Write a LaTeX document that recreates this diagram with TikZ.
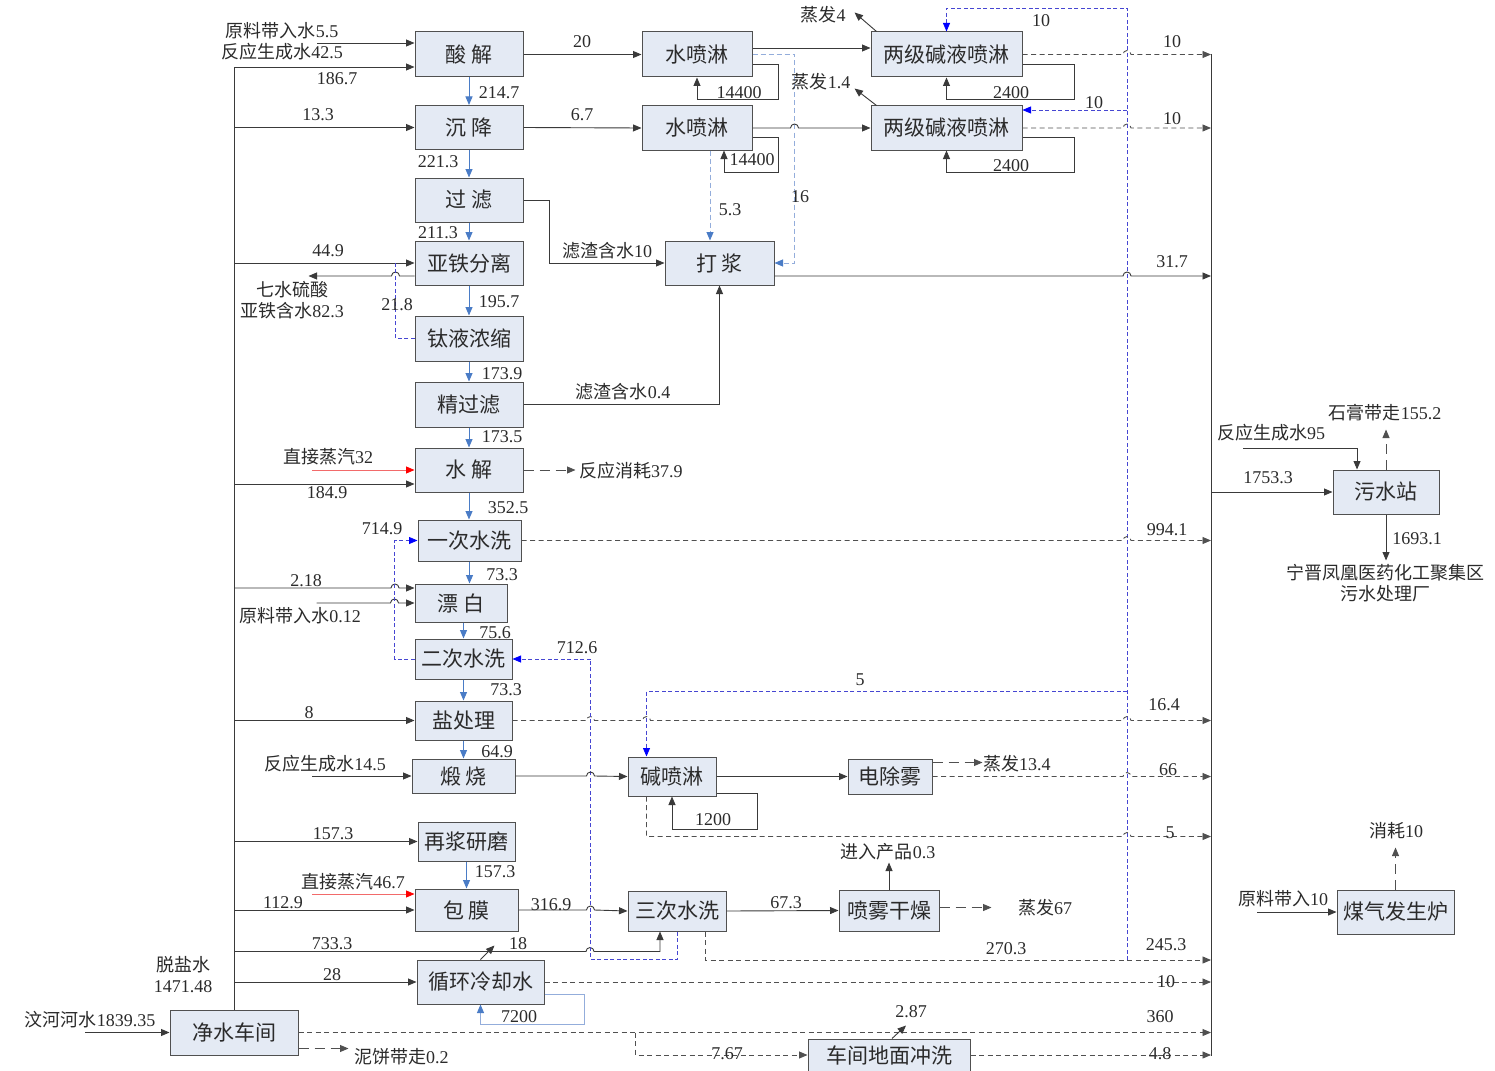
\documentclass[tikz,border=0pt]{standalone}
\usepackage{fontspec}
\setmainfont{Liberation Serif}
\newfontfamily\cjk{Noto Sans CJK SC}
\usetikzlibrary{arrows.meta,calc}
\definecolor{wsInk}{HTML}{3A3A3A}
\definecolor{wsLine}{HTML}{505050}
\definecolor{wsFill}{HTML}{E4EAF4}
\definecolor{wsBlue}{HTML}{4A7CC6}
\definecolor{wsRcy}{HTML}{4646D2}
\definecolor{wsLight}{HTML}{93ADDB}
\definecolor{wsRed}{HTML}{F26A6A}
\definecolor{wsText}{HTML}{2B2B2B}
\newcommand{\zh}[1]{{\cjk #1}}

\begin{document}
\begin{tikzpicture}[x=1pt,y=-1pt,>={Triangle[length=8.5pt,width=7pt]}]
\useasboundingbox[fill=white] (0,0) rectangle (1495,1070);
\tikzset{box/.style={draw=wsLine,fill=wsFill,line width=1pt,inner sep=0pt,text=wsText,font=\cjk\fontsize{21}{23}\selectfont},bx/.style 2 args={box,minimum width=#1pt,minimum height=#2pt},wire/.style={draw=wsInk,line width=0.9pt},flow/.style={wire,->},down/.style={draw=wsBlue,line width=1pt,->},dsh/.style={draw=wsLine,line width=0.9pt,dash pattern=on 5pt off 3.5pt,->},dshl/.style={draw=wsLine,line width=0.9pt,dash pattern=on 10pt off 6pt,->},rcy/.style={draw=wsRcy,line width=0.8pt,dash pattern=on 4pt off 2.5pt,-{Triangle[length=8.5pt,width=7pt,color=blue]}},rcyl/.style={draw=wsRcy,line width=0.8pt,dash pattern=on 4pt off 2.5pt},ltb/.style={draw=wsLight,line width=1pt,dash pattern=on 5pt off 3pt,-{Triangle[length=8.5pt,width=7pt,color=wsBlue]}},lloop/.style={draw=wsLight,line width=1pt,-{Triangle[length=8.5pt,width=7pt,color=wsBlue]}},stm/.style={draw=wsRed,line width=0.9pt,{Triangle[length=8.5pt,width=7pt,color=red]}-},lbl/.style={inner sep=1pt,text=wsText,font=\fontsize{18}{21}\selectfont}}
\node[bx={108}{45}] (sj) at (469,54.5) {酸 解};
\node[bx={108}{44}] (cj) at (469,127.5) {沉 降};
\node[bx={108}{44}] (gl) at (469,200) {过 滤};
\node[bx={108}{44}] (yt) at (469,263) {亚铁分离};
\node[bx={108}{45}] (ty) at (469,338.5) {钛液浓缩};
\node[bx={108}{45}] (jg) at (469,404.5) {精过滤};
\node[bx={108}{44}] (sh) at (469,470) {水 解};
\node[bx={103}{41}] (yc) at (469.5,540.5) {一次水洗};
\node[bx={92}{38}] (pb) at (461,603) {漂 白};
\node[bx={97}{40}] (ec) at (463.5,659) {二次水洗};
\node[bx={97}{39}] (ycl) at (463.5,720.5) {盐处理};
\node[bx={103}{34}] (ds) at (463.5,776) {煅 烧};
\node[bx={97}{39}] (zj) at (466.5,841.5) {再浆研磨};
\node[bx={103}{42}] (bm) at (466.5,910) {包 膜};
\node[bx={127}{44}] (xh) at (480.5,982) {循环冷却水};
\node[bx={128}{45}] (js) at (234,1032.5) {净水车间};
\node[bx={110}{45}] (spa) at (697,54.5) {水喷淋};
\node[bx={110}{44}] (spb) at (697,128) {水喷淋};
\node[bx={109}{44}] (dj) at (719.5,263) {打 浆};
\node[bx={151}{45}] (lja) at (946.5,54.5) {两级碱液喷淋};
\node[bx={151}{44}] (ljb) at (946.5,128) {两级碱液喷淋};
\node[bx={88}{39}] (jpl) at (672,776.5) {碱喷淋};
\node[bx={84}{35}] (dcw) at (890,776.5) {电除雾};
\node[bx={98}{40}] (sc) at (677,911) {三次水洗};
\node[bx={100}{41}] (pw) at (889,910.5) {喷雾干燥};
\node[bx={162}{32}] (dm) at (889,1055) {车间地面冲洗};
\node[bx={106}{44}] (ws) at (1386,492) {污水站};
\node[bx={117}{44}] (mq) at (1395.5,912) {煤气发生炉};
\coordinate (lb) at (234,67); \coordinate (rb) at (1211,54); \coordinate (rbb) at (1211,1056);
\coordinate (bc) at (1127,8); \coordinate (bcb) at (1127,960); \coordinate (b5) at (1127,691);
\draw[wire] (js.north) -- (lb); \draw[wire] (rb) -- (rbb);
\draw[flow,<-] (js.west) -- ++(-85,0);
\draw[flow,<-] ([yshift=11.5pt]sj.west) -- ++(-98,0);
\draw[flow] ([yshift=-12.5pt]sj.west -| lb) -- ([yshift=-12.5pt]sj.west);
\draw[flow] (cj.west -| lb) -- (cj.west);
\draw[flow] (yt.west -| lb) -- (yt.west);
\draw[flow] ([yshift=-13pt]yt.west) -- ++(-15,0) arc[start angle=0,end angle=-180,radius=4] -- ++(-83,0);
\draw[rcyl] (ty.west) -| ([xshift=-19pt]yt.west);
\draw[flow] ([yshift=-14pt]sh.west -| lb) -- ([yshift=-14pt]sh.west);
\draw[stm] (sh.west) -- ++(-103,0);
\draw[flow] ([yshift=15pt]pb.west -| lb) -- ++(157,0) arc[start angle=180,end angle=360,radius=4] -- ([yshift=15pt]pb.west);
\draw[flow] ($(pb.west)+(-98,0)$) -- ++(74,0) arc[start angle=180,end angle=360,radius=4] -- (pb.west);
\draw[flow] (ycl.west -| lb) -- (ycl.west);
\draw[flow,<-] (ds.west) -- ++(-100,0);
\draw[flow] (zj.west -| lb) -- (zj.west);
\draw[stm] ([yshift=16pt]bm.west) -- ++(-103,0);
\draw[flow] (bm.west -| lb) -- (bm.west);
\draw[flow] ([yshift=-20pt]sc.south -| lb) -- ++(352,0) arc[start angle=180,end angle=360,radius=4] -| ([xshift=-17pt]sc.south);
\draw[flow] (xh.west -| lb) -- (xh.west);
\draw[down] (sj.south) -- (cj.north); \draw[down] (cj.south) -- (gl.north); \draw[down] (gl.south) -- (yt.north);
\draw[down] (yt.south) -- (ty.north); \draw[down] (ty.south) -- (jg.north); \draw[down] (jg.south) -- (sh.north);
\draw[down] (sh.south) -- (sh.south |- yc.north); \draw[down] (yc.south) -- (yc.south |- pb.north);
\draw[down] (pb.south -| ec.north) -- (ec.north); \draw[down] (ec.south) -- (ycl.north); \draw[down] (ycl.south) -- (ds.north);
\draw[down] (zj.south) -- (bm.north);
\draw[flow] (sj.east) -- (spa.west); \draw[flow] (cj.east) -- (spb.west);
\draw[flow] (gl.east) -- ++(26,0) |- (dj.west);
\draw[flow] (jg.east) -| (dj.south);
\draw[dshl] (sh.east) -- ++(52,0);
\draw[flow] ([yshift=6.5pt]spa.east) -- ([yshift=6.5pt]lja.west);
\draw[ltb] (spa.east) -- ++(42,0) |- (dj.east);
\draw[flow] (spb.east) -- ++(38,0) arc[start angle=180,end angle=360,radius=4] -- (ljb.west);
\draw[ltb] ([xshift=13pt]spb.south) -- ([xshift=13pt]spb.south |- dj.north);
\draw[flow] ([yshift=-9.5pt]spa.east) -| ++(26,35) -| (spa.south);
\draw[flow] ([yshift=-9.5pt]spb.east) -| ++(26,35) -| ([xshift=27pt]spb.south);
\draw[flow] ([yshift=-9.5pt]lja.east) -| ++(52,35) -| (lja.south);
\draw[flow] ([yshift=-9.5pt]ljb.east) -| ++(52,35) -| (ljb.south);
\draw[flow] ([xshift=6pt]lja.north west) -- ++(-22,-19);
\draw[flow] ([xshift=6pt]ljb.north west) -- ++(-22,-17);
\draw[rcy] (bcb) -- (bc) -| (lja.north);
\draw[rcy] ([yshift=18pt]ljb.east -| bc) -- ([yshift=18pt]ljb.east);
\draw[rcy] (b5) -| ([xshift=19pt]jpl.north west);
\draw[dsh] (lja.east) -- ($(lja.east -| bc)+(-4,0)$) arc[start angle=180,end angle=360,radius=4] -- (lja.east -| rb);
\draw[dsh] (ljb.east) -- ($(ljb.east -| bc)+(-4,0)$) arc[start angle=180,end angle=360,radius=4] -- (ljb.east -| rb);
\coordinate (dj1) at ([yshift=-13pt]dj.east);
\draw[flow] (dj1) -- ($(dj1 -| bc)+(-4,0)$) arc[start angle=180,end angle=360,radius=4] -- (dj1 -| rb);
\draw[dsh] (yc.east) -- ($(yc.east -| bc)+(-4,0)$) arc[start angle=180,end angle=360,radius=4] -- (yc.east -| rb);
\draw[dsh] (ycl.east) -- ($(ycl.east)+(74,0)$) arc[start angle=180,end angle=360,radius=4] -- ($(ycl.east -| jpl.west)+(15,0)$) arc[start angle=180,end angle=360,radius=4] -- ($(ycl.east -| bc)+(-4,0)$) arc[start angle=180,end angle=360,radius=4] -- (ycl.east -| rb);
\draw[rcyl] (sc.south) -- ++(0,28) -| ($(ec.east)+(78,0)$);
\draw[rcy] ($(ec.east)+(78,0)$) -- (ec.east);
\draw[rcy] (ec.west) -- ++(-20,0) |- (yc.west);
\draw[flow] (ds.east) -- ++(71,0) arc[start angle=180,end angle=360,radius=4] -- (jpl.west);
\draw[flow] (jpl.east) -- (dcw.west);
\draw[dshl] ([yshift=14pt]dcw.east) -- ++(50,0);
\draw[dsh] (dcw.east) -- ($(dcw.east -| bc)+(-4,0)$) arc[start angle=180,end angle=360,radius=4] -- (dcw.east -| rb);
\draw[flow] ([yshift=-16.5pt]jpl.east) -| ++(41,36) -| (jpl.south);
\coordinate (jp5) at ([xshift=19pt]jpl.south west);
\draw[dsh] (jp5) -- ++(0,40) -- ($(jp5 -| bc)+(-4,40)$) arc[start angle=180,end angle=360,radius=4] -- ($(jp5 -| rb)+(0,40)$);
\draw[flow] (bm.east) -- ++(68,0) arc[start angle=180,end angle=360,radius=4] -- (sc.west);
\draw[flow] (sc.east) -- (pw.west);
\draw[flow] (pw.north) -- ++(0,-27);
\draw[dshl] ([yshift=3pt]pw.east) -- ++(52,0);
\draw[dsh] ([xshift=28pt]sc.south) |- (bcb -| rb);
\draw[flow] (xh.north) -- ++(14,-14);
\draw[lloop] ([yshift=-12pt]xh.east) -| ++(40,30) -| (xh.south);
\draw[dsh] (xh.east) -- (xh.east -| rb);
\draw[dsh] (js.east) -- (js.east -| rb);
\draw[dshl] ([yshift=-16pt]js.east) -- ++(50,0);
\draw[dsh] ($(js.east)+(337,0)$) |- (dm.west);
\draw[dsh] (dm.east) -- (dm.east -| rb);
\draw[flow] ([xshift=3pt]dm.north) -- ++(14,-13);
\draw[flow] (ws.west -| rb) -- (ws.west);
\draw[flow,<-] ([xshift=-29pt]ws.north) |- ++(-114,-21);
\draw[dshl] (ws.north) -- ++(0,-40);
\draw[flow] (ws.south) -- ++(0,46);
\draw[flow,<-] (mq.west) -- ++(-80,0);
\draw[dshl] (mq.north) -- ++(0,-42);
\node[lbl] (tA) at (282,31) {\zh{原料带入水}5.5}; \node[lbl] (tB) at (282,52) {\zh{反应生成水}42.5};
\node[lbl] (t1867) at (337,79) {186.7}; \node[lbl] (t133) at (318,115) {13.3};
\node[lbl] (t2147) at (499,93) {214.7}; \node[lbl] (t2213) at (438,162) {221.3}; \node[lbl] (t2113) at (438,233) {211.3};
\node[lbl] (t449) at (328,251) {44.9};
\node[lbl,align=center] (tQS) at (292,300) {\zh{七水硫酸}\\\zh{亚铁含水}82.3};
\node[lbl] (t218b) at (397,305) {21.8}; \node[lbl] (t1957) at (499,302) {195.7};
\node[lbl] (t1739) at (502,374) {173.9}; \node[lbl] (t1735) at (502,437) {173.5};
\node[lbl] (tZJ) at (328,457) {\zh{直接蒸汽}32}; \node[lbl] (t1849) at (327,493) {184.9};
\node[lbl,anchor=west] (tFY) at (578,471) {\zh{反应消耗}37.9};
\node[lbl] (t3525) at (508,508) {352.5}; \node[lbl] (t7149) at (382,529) {714.9};
\node[lbl] (t733a) at (502,575) {73.3}; \node[lbl] (t218) at (306,581) {2.18};
\node[lbl] (tYL) at (300,616) {\zh{原料带入水}0.12};
\node[lbl] (t756) at (495,633) {75.6}; \node[lbl] (t7126) at (577,648) {712.6}; \node[lbl] (t733b) at (506,690) {73.3};
\node[lbl] (t8) at (309,713) {8}; \node[lbl] (t649) at (497,752) {64.9};
\node[lbl] (tFY2) at (325,764) {\zh{反应生成水}14.5};
\node[lbl] (t1573a) at (333,834) {157.3}; \node[lbl] (t1573b) at (495,872) {157.3};
\node[lbl] (tZJ2) at (353,882) {\zh{直接蒸汽}46.7}; \node[lbl] (t1129) at (283,903) {112.9};
\node[lbl] (t3169) at (551,905) {316.9}; \node[lbl] (t7333) at (332,944) {733.3}; \node[lbl] (t18) at (518,944) {18};
\node[lbl] (t28) at (332,975) {28}; \node[lbl] (t7200) at (519,1017) {7200};
\node[lbl,align=center] (tTY) at (183,975) {\zh{脱盐水}\\1471.48};
\node[lbl] (tWH) at (90,1020) {\zh{汶河河水}1839.35};
\node[lbl,anchor=west] (tNB) at (353,1057) {\zh{泥饼带走}0.2};
\node[lbl] (t20) at (582,42) {20}; \node[lbl] (t67) at (582,115) {6.7};
\node[lbl] (tLZ) at (607,251) {\zh{滤渣含水}10}; \node[lbl] (tLZ2) at (623,392) {\zh{滤渣含水}0.4};
\node[lbl] (t144a) at (739,93) {14400}; \node[lbl] (t144b) at (752,160) {14400};
\node[lbl] (t53) at (730,210) {5.3}; \node[lbl] (t16) at (800,197) {16};
\node[lbl] (tZF4) at (823,15) {\zh{蒸发}4}; \node[lbl] (tZF14) at (821,82) {\zh{蒸发}1.4};
\node[lbl] (t10a) at (1041,21) {10}; \node[lbl] (t24a) at (1011,93) {2400};
\node[lbl] (t10b) at (1094,103) {10}; \node[lbl] (t24b) at (1011,166) {2400};
\node[lbl] (t10c) at (1172,42) {10}; \node[lbl] (t10d) at (1172,119) {10}; \node[lbl] (t317) at (1172,262) {31.7};
\node[lbl] (t9941) at (1167,530) {994.1}; \node[lbl] (t5a) at (860,680) {5}; \node[lbl] (t164) at (1164,705) {16.4};
\node[lbl,anchor=west] (tZF134) at (982,764) {\zh{蒸发}13.4}; \node[lbl] (t66) at (1168,770) {66};
\node[lbl] (t1200) at (713,820) {1200}; \node[lbl] (t5b) at (1170,833) {5};
\node[lbl] (tJR) at (888,852) {\zh{进入产品}0.3}; \node[lbl] (t673) at (786,903) {67.3};
\node[lbl] (tZF67) at (1045,908) {\zh{蒸发}67};
\node[lbl] (t2703) at (1006,949) {270.3}; \node[lbl] (t2453) at (1166,945) {245.3};
\node[lbl] (t10e) at (1166,982) {10}; \node[lbl] (t287) at (911,1012) {2.87}; \node[lbl] (t360) at (1160,1017) {360};
\node[lbl] (t767) at (727,1054) {7.67}; \node[lbl] (t48) at (1160,1054) {4.8};
\node[lbl] (tFY95) at (1271,433) {\zh{反应生成水}95}; \node[lbl] (tSG) at (1385,413) {\zh{石膏带走}155.2};
\node[lbl] (t17533) at (1268,478) {1753.3}; \node[lbl] (t16931) at (1417,539) {1693.1};
\node[lbl,align=center] (tNJ) at (1385,583) {\zh{宁晋凤凰医药化工聚集区}\\\zh{污水处理厂}};
\node[lbl] (tYL10) at (1283,899) {\zh{原料带入}10}; \node[lbl] (tXH10) at (1396,831) {\zh{消耗}10};
\end{tikzpicture}
\end{document}
